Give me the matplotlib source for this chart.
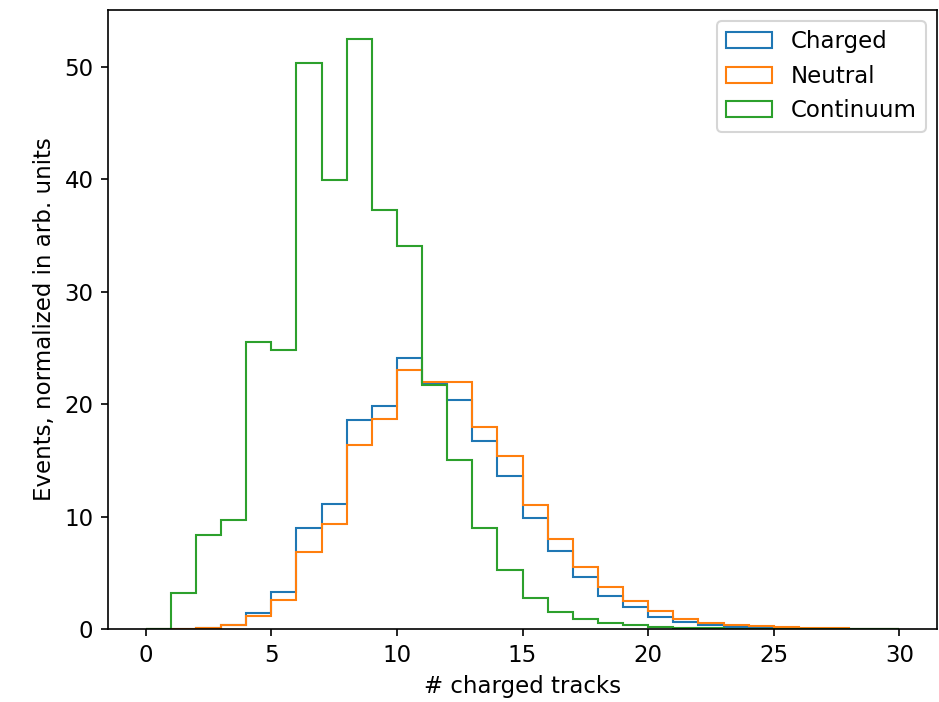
import numpy as np
import matplotlib
matplotlib.use("Agg")
import matplotlib.pyplot as plt

# bin edges: 0..30, width 1
edges = np.arange(0, 31)

charged = [0, 0.02, 0.1, 0.33, 1.4, 3.33, 8.99, 11.1, 18.6, 19.8,
           24.15, 21.9, 20.4, 16.7, 13.6, 9.9, 6.96, 4.6, 2.9, 1.94,
           1.05, 0.64, 0.34, 0.2, 0.1, 0.05, 0.03, 0.02, 0.01, 0.005]
neutral = [0, 0.02, 0.1, 0.33, 1.19, 2.58, 6.85, 9.38, 16.4, 18.7,
           23.04, 22.0, 22.0, 18.0, 15.4, 11.0, 8.0, 5.5, 3.75, 2.5,
           1.58, 0.87, 0.49, 0.34, 0.25, 0.15, 0.1, 0.05, 0.03, 0.02]
continuum = [0, 3.24, 8.33, 9.67, 25.5, 24.86, 50.36, 39.95, 52.46, 37.25,
             34.1, 21.7, 15.0, 8.96, 5.25, 2.73, 1.51, 0.86, 0.5, 0.32,
             0.2, 0.1, 0.06, 0.04, 0.02, 0.01, 0.01, 0.0, 0.0, 0.0]
labels = ["Charged", "Neutral", "Continuum"]

plt.rcParams["font.size"] = 11

fig = plt.figure(figsize=(939 / 150, 702 / 150), dpi=150)
ax = fig.add_axes([0.115, 0.104, 0.883, 0.882])

centers = edges[:-1] + 0.5
for vals, lab in zip([charged, neutral, continuum], labels):
    ax.hist(centers, bins=edges, weights=vals, histtype="step", label=lab)

ax.set_xlabel("# charged tracks")
ax.set_ylabel("Events, normalized in arb. units")
ax.legend(loc="upper right")

fig.savefig("out.png", dpi=150)
